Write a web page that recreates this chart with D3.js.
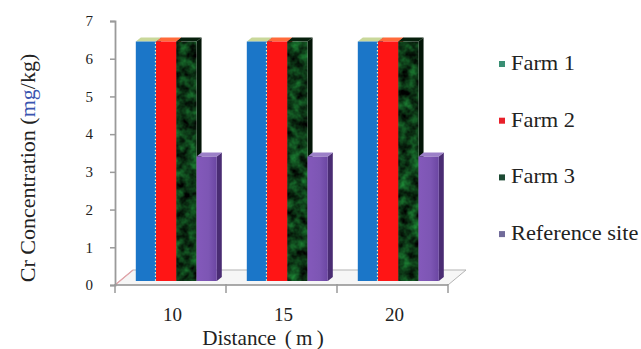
<!DOCTYPE html>
<html>
<head>
<meta charset="utf-8">
<script src="https://cdn.jsdelivr.net/npm/d3@7"></script>
<style>
  html, body { margin: 0; padding: 0; background: #fff; }
  svg { display: block; }
  svg text { font-family: "Liberation Serif", "DejaVu Serif", "Times New Roman", serif; fill: #222; }
</style>
</head>
<body>
<svg id="chart" width="641" height="349"></svg>
<script>
// Cr concentration by distance from the farms
const categories = ["10", "15", "20"];
const seriesNames = ["Farm 1", "Farm 2", "Farm 3", "Reference site"];
const farm1 = [6.35, 6.35, 6.35];
const farm2 = [6.35, 6.35, 6.35];
const farm3 = [6.35, 6.35, 6.35];
const referenceSite = [3.3, 3.3, 3.3];
const yTicks = [0, 1, 2, 3, 4, 5, 6, 7];

const seriesValues = [farm1, farm2, farm3, referenceSite];
const SERIF = "'Liberation Serif', 'DejaVu Serif', 'Times New Roman', serif";

const svg = d3.select("#chart");
const defs = svg.append("defs");

// mottled dark-green fill for Farm 3
const marble = defs.append("filter").attr("id", "marble")
  .attr("color-interpolation-filters", "sRGB")
  .attr("x", 0).attr("y", 0).attr("width", 1).attr("height", 1);
marble.append("feTurbulence").attr("type", "fractalNoise")
  .attr("baseFrequency", "0.1").attr("numOctaves", 3).attr("seed", 7).attr("result", "noise");
marble.append("feColorMatrix").attr("in", "noise").attr("type", "matrix")
  .attr("values", "0.16 0 0 0 -0.03  0.75 0 0 0 -0.15  0.3 0 0 0 -0.06  0 0 0 0 1")
  .attr("result", "tint");
marble.append("feComposite").attr("in", "tint").attr("in2", "SourceGraphic").attr("operator", "in");

const purpleGrad = defs.append("linearGradient").attr("id", "purpleFront")
  .attr("x1", 0).attr("x2", 1).attr("y1", 0).attr("y2", 0);
purpleGrad.append("stop").attr("offset", "0%").attr("stop-color", "#8459bb");
purpleGrad.append("stop").attr("offset", "60%").attr("stop-color", "#7d56b4");
purpleGrad.append("stop").attr("offset", "100%").attr("stop-color", "#6b46a2");

const styles = [
  { front: "#1b76c8", top: "#c9d89a", side: "#0f4f8e", legend: "#3a8f74" },
  { front: "#ff1515", top: "#ff6a3a", side: "#b00c0c", legend: "#e8202a" },
  { front: "#0b3f1b", top: "#06200c", side: "#031507", legend: "#1d4a33", marble: true },
  { front: "url(#purpleFront)", top: "#9c80c8", side: "#4a2c73", legend: "#716b9a" }
];

// scales
const y = d3.scaleLinear().domain([0, 7]).range([285, 21]);
const x0 = d3.scaleBand().domain(categories).range([115, 448]).paddingInner(0).paddingOuter(0);
const x1 = d3.scaleBand().domain(seriesNames).range([16, 97]).paddingInner(0);

// depth of the floor and of each column
const floorD = { dx: 18, dy: -15 };
const plane = { dx: 4.8, dy: -4 };
const barD = { dx: 5, dy: -4 };

// floor
const fx0 = x0.range()[0], fx1 = x0.range()[1], fy = y(0);
svg.append("polygon")
  .attr("points", [[fx0, fy], [fx1, fy], [fx1 + floorD.dx, fy + floorD.dy], [fx0 + floorD.dx, fy + floorD.dy]].join(" "))
  .attr("fill", "#f6f6f6").attr("stroke", "#b3b3b3").attr("stroke-width", 1);
svg.append("line")
  .attr("x1", fx0).attr("y1", fy).attr("x2", fx0 + floorD.dx).attr("y2", fy + floorD.dy)
  .attr("stroke", "#e3a3a8").attr("stroke-width", 1.2);

// columns
categories.forEach((cat, ci) => {
  seriesNames.forEach((name, si) => {
    const v = seriesValues[si][ci];
    const st = styles[si];
    const bx = x0(cat) + plane.dx + x1(name);
    const bw = x1.bandwidth();
    const top = y(v) + plane.dy;
    const bottom = y(0) + plane.dy;
    const g = svg.append("g");
    // right side face
    g.append("polygon")
      .attr("points", [[bx + bw, top], [bx + bw + barD.dx, top + barD.dy], [bx + bw + barD.dx, bottom + barD.dy], [bx + bw, bottom]].join(" "))
      .attr("fill", st.side);
    // top face
    g.append("polygon")
      .attr("points", [[bx, top], [bx + barD.dx, top + barD.dy], [bx + bw + barD.dx, top + barD.dy], [bx + bw, top]].join(" "))
      .attr("fill", st.top);
    // front face
    const r = g.append("rect")
      .attr("x", bx).attr("y", top).attr("width", bw).attr("height", bottom - top)
      .attr("fill", st.front);
    if (st.marble) r.attr("filter", "url(#marble)");
    if (si === 0) {
      g.append("line")
        .attr("x1", bx + bw - 0.5).attr("x2", bx + bw - 0.5)
        .attr("y1", top + 1).attr("y2", bottom)
        .attr("stroke", "#fff4c8").attr("stroke-width", 1.3)
        .attr("stroke-dasharray", "1.5,2.2");
    }
  });
});

// front edge of the floor and category ticks
svg.append("line")
  .attr("x1", fx0).attr("x2", fx1).attr("y1", fy).attr("y2", fy)
  .attr("stroke", "#9a9a9a").attr("stroke-width", 1.6);
const xTickPos = categories.map(c => x0(c)).concat([fx1]);
svg.selectAll(".xtick").data(xTickPos).enter().append("line")
  .attr("x1", d => d).attr("x2", d => d)
  .attr("y1", fy - 1).attr("y2", fy + 8)
  .attr("stroke", "#9a9a9a").attr("stroke-width", 1.5);
svg.selectAll(".xlab").data(categories).enter().append("text")
  .attr("x", d => x0(d) + x0.bandwidth() / 2 + 2)
  .attr("y", 321)
  .attr("text-anchor", "middle")
  .style("font-family", SERIF)
  .style("font-size", "19px")
  .text(d => d);

// value axis
const yAxis = d3.axisLeft(y).tickValues(yTicks).tickSize(5).tickPadding(17).tickFormat(d3.format("d"));
const ya = svg.append("g").attr("transform", `translate(${fx0},0)`).call(yAxis)
  .attr("font-family", SERIF);
ya.select(".domain").attr("stroke", "#9a9a9a").attr("stroke-width", 1.8);
ya.selectAll(".tick line").attr("stroke", "#9a9a9a").attr("stroke-width", 1.5);
ya.selectAll(".tick text")
  .style("font-family", SERIF)
  .style("font-size", "15px").attr("fill", "#333");

// axis titles
const yt = svg.append("text")
  .attr("transform", "translate(35,168) rotate(-90)")
  .attr("text-anchor", "middle")
  .style("font-family", SERIF)
  .style("font-size", "22px");
yt.append("tspan").text("Cr Concentration (");
yt.append("tspan").text("mg").attr("fill", "#3a55b0");
yt.append("tspan").text("/kg)");

const xt = svg.append("text")
  .attr("transform", "translate(263,344.5) scale(1.06,1)")
  .attr("text-anchor", "middle")
  .style("font-family", SERIF)
  .style("font-size", "20px");
xt.append("tspan").text("Distance ");
xt.append("tspan").text("(").attr("dx", 3);
xt.append("tspan").text("m").attr("dx", 4);
xt.append("tspan").text(")").attr("dx", 4);

// legend
const legend = svg.append("g");
seriesNames.forEach((name, i) => {
  const ly = 70 + i * 56.7;
  legend.append("rect")
    .attr("x", 499).attr("y", ly - 9).attr("width", 6).attr("height", 6)
    .attr("fill", styles[i].legend);
  legend.append("text")
    .attr("transform", `translate(511,${ly}) scale(1.12,1)`)
    .style("font-family", SERIF)
    .style("font-size", "20px")
    .text(name);
});
</script>
</body>
</html>
